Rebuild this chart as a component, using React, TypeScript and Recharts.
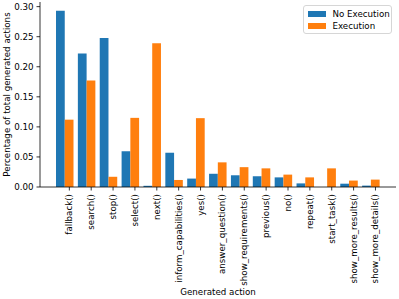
import { BarChart, Bar, XAxis, YAxis, Legend, Label } from 'recharts';

const categories = [
  'fallback()',
  'search()',
  'stop()',
  'select()',
  'next()',
  'inform_capabilities()',
  'yes()',
  'answer_question()',
  'show_requirements()',
  'previous()',
  'no()',
  'repeat()',
  'start_task()',
  'show_more_results()',
  'show_more_details()',
];
const noExecution = [0.293, 0.222, 0.248, 0.0595, 0.002, 0.057, 0.014, 0.022, 0.0195, 0.018, 0.016, 0.006, 0, 0.0055, 0.0023];
const execution = [0.112, 0.177, 0.017, 0.115, 0.239, 0.0117, 0.1145, 0.041, 0.033, 0.031, 0.0206, 0.016, 0.031, 0.0107, 0.0123];
const yTicks = [0, 0.05, 0.1, 0.15, 0.2, 0.25, 0.3];

const data = categories.map((action, i) => ({
  action,
  noExecution: noExecution[i],
  execution: execution[i],
}));

const BLUE = '#1f77b4';
const ORANGE = '#ff7f0e';
const FONT = '"DejaVu Sans", sans-serif';
const FS = 8.7;

// matplotlib put the tick under the orange bar, not the group centre
const ActionTick = (props: any) => {
  const { x, y, payload } = props;
  const cx = x + 4.4;
  const ty = y + 7;
  return (
    <g>
      <line x1={cx} y1={y} x2={cx} y2={y + 3.5} stroke="#000" strokeWidth={0.8} />
      <text
        x={cx}
        y={ty}
        transform={`rotate(-90, ${cx}, ${ty})`}
        textAnchor="end"
        dominantBaseline="central"
        fontSize={FS}
        fontFamily={FONT}
        fill="#000"
      >
        {payload.value}
      </text>
    </g>
  );
};

const YTitle = (props: any) => {
  const { viewBox } = props;
  const x = viewBox.x + 6.5;
  const y = viewBox.y + viewBox.height / 2;
  return (
    <text
      x={x}
      y={y}
      transform={`rotate(-90, ${x}, ${y})`}
      textAnchor="middle"
      dominantBaseline="central"
      fontSize={FS}
      fontFamily={FONT}
      fill="#000"
    >
      Percentage of total generated actions
    </text>
  );
};

const LegendBox = () => (
  <div
    style={{
      boxSizing: 'border-box',
      width: 89,
      height: 29,
      border: '1px solid #d6d6d6',
      borderRadius: 3,
      background: '#fff',
      padding: '1.5px 0 0 3.5px',
      fontFamily: FONT,
      fontSize: FS,
      lineHeight: '12.3px',
      color: '#000',
    }}
  >
    {[
      ['No Execution', BLUE],
      ['Execution', ORANGE],
    ].map(([name, color]) => (
      <div key={name} style={{ display: 'flex', alignItems: 'center', height: 12.3 }}>
        <span style={{ display: 'inline-block', width: 18, height: 6, background: color, marginRight: 7 }} />
        {name}
      </div>
    ))}
  </div>
);

export default function App() {
  return (
    <div style={{ position: 'absolute', left: 0, top: 0, fontFamily: FONT }}>
      <BarChart
        width={399}
        height={299}
        data={data}
        margin={{ top: 2, right: 3, left: 0, bottom: 0 }}
        barCategoryGap="10%"
        barGap={0}
        barSize={8.75}
      >
        <XAxis
          dataKey="action"
          type="category"
          interval={0}
          height={112}
          padding={{ left: 14, right: 14 }}
          tickLine={false}
          tickSize={0}
          tickMargin={0}
          tick={<ActionTick />}
          axisLine={{ stroke: '#000', strokeWidth: 0.8 }}
        >
          <Label
            value="Generated action"
            position="insideBottom"
            offset={4}
            fontSize={FS}
            fontFamily={FONT}
            fill="#000"
          />
        </XAxis>
        <XAxis
          xAxisId="top"
          dataKey="action"
          orientation="top"
          height={0}
          tick={false}
          tickLine={false}
          axisLine={{ stroke: '#000', strokeWidth: 0.8 }}
        />
        <YAxis
          width={40}
          domain={[0, 0.3077]}
          ticks={yTicks}
          interval={0}
          tickFormatter={(v: number) => v.toFixed(2)}
          tickSize={3.5}
          tickMargin={3}
          tick={{ fontSize: FS, fontFamily: FONT, fill: '#000' }}
          tickLine={{ stroke: '#000', strokeWidth: 0.8 }}
          axisLine={{ stroke: '#000', strokeWidth: 0.8 }}
        >
          <Label content={<YTitle />} />
        </YAxis>
        <YAxis
          yAxisId="right"
          orientation="right"
          width={0}
          tick={false}
          tickLine={false}
          axisLine={{ stroke: '#000', strokeWidth: 0.8 }}
        />
        <Legend
          layout="horizontal"
          verticalAlign="middle"
          align="center"
          content={<LegendBox />}
          wrapperStyle={{ left: 303, top: 5, width: 89, height: 29 }}
        />
        <Bar dataKey="noExecution" name="No Execution" fill={BLUE} isAnimationActive={false} />
        <Bar dataKey="execution" name="Execution" fill={ORANGE} isAnimationActive={false} />
      </BarChart>
    </div>
  );
}
